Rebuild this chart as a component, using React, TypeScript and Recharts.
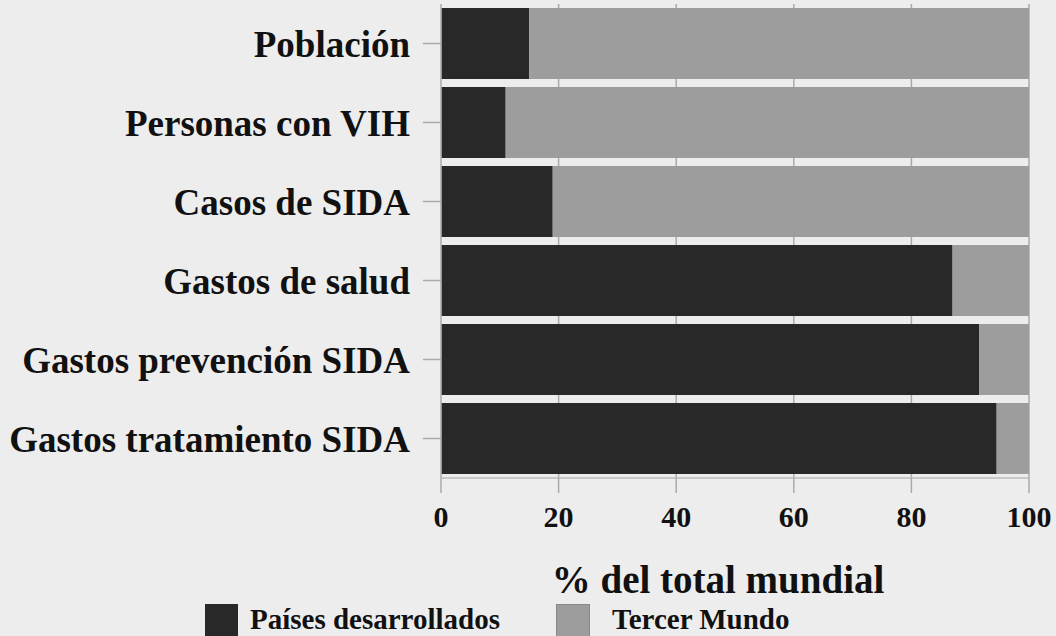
import React from "react";
import { BarChart, Bar, XAxis, YAxis, CartesianGrid, Legend } from "recharts";

const categories = [
  "Población",
  "Personas con VIH",
  "Casos de SIDA",
  "Gastos de salud",
  "Gastos prevención SIDA",
  "Gastos tratamiento SIDA",
];
const desarrollados = [15, 11, 19, 87, 91.5, 94.5];
const tercerMundo = [85, 89, 81, 13, 8.5, 5.5];
const xTicks = [0, 20, 40, 60, 80, 100];
const seriesNames = ["Países desarrollados", "Tercer Mundo"];

const DARK = "#282828";
const GRAY = "#9d9d9d";
const FONT = "'Liberation Serif', 'Times New Roman', serif";

const data = categories.map((name, i) => ({
  name,
  des: desarrollados[i],
  ter: tercerMundo[i],
}));

const LegendContent = () => (
  <div style={{ position: "relative", width: 1056, height: 40, fontFamily: FONT }}>
    <div style={{ position: "absolute", left: 205, top: 8, width: 33, height: 36, background: DARK }} />
    <div style={{ position: "absolute", left: 250, top: 6, fontSize: 29, fontWeight: 700, color: "#111", lineHeight: "34px" }}>
      {seriesNames[0]}
    </div>
    <div style={{ position: "absolute", left: 556, top: 8, width: 34, height: 36, background: GRAY, border: "1px solid #888", boxSizing: "border-box" }} />
    <div style={{ position: "absolute", left: 612, top: 6, fontSize: 29, fontWeight: 700, color: "#111", lineHeight: "34px" }}>
      {seriesNames[1]}
    </div>
  </div>
);

export default function App() {
  return (
    <div style={{ position: "absolute", left: 0, top: 0, width: 1056, height: 636, background: "#ededed", overflow: "hidden" }}>
      <BarChart
        width={1056}
        height={636}
        data={data}
        layout="vertical"
        margin={{ top: 4, right: 27, bottom: 0, left: 0 }}
        barCategoryGap={4}
      >
        <CartesianGrid vertical horizontal={false} stroke="#aaaaaa" strokeWidth={1.5} />
        <XAxis
          type="number"
          domain={[0, 100]}
          ticks={xTicks}
          height={158}
          tickSize={15}
          tickMargin={13}
          axisLine={{ stroke: "#bbbbbb", strokeWidth: 1.5 }}
          tickLine={{ stroke: "#aaaaaa", strokeWidth: 1.5 }}
          tick={{ fontSize: 30, fontWeight: 700, fill: "#111", fontFamily: FONT }}
          label={{
            value: "% del total mundial",
            position: "insideTop",
            offset: 87,
            dx: -17,
            style: { fontSize: 39, fontWeight: 700, fill: "#111", fontFamily: FONT },
          }}
        />
        <YAxis
          type="category"
          dataKey="name"
          width={441}
          tickSize={18}
          tickMargin={13}
          axisLine={{ stroke: "#bbbbbb", strokeWidth: 1.5 }}
          tickLine={{ stroke: "#aaaaaa", strokeWidth: 1.5 }}
          tick={{ fontSize: 37, fontWeight: 700, fill: "#111", fontFamily: FONT }}
        />
        <Legend
          layout="horizontal"
          verticalAlign="middle"
          align="center"
          content={<LegendContent />}
          wrapperStyle={{ position: "absolute", left: 0, top: 596, width: 1056, height: 40 }}
        />
        <Bar dataKey="des" stackId="a" fill={DARK} name={seriesNames[0]} isAnimationActive={false} />
        <Bar dataKey="ter" stackId="a" fill={GRAY} name={seriesNames[1]} isAnimationActive={false} />
      </BarChart>
    </div>
  );
}
